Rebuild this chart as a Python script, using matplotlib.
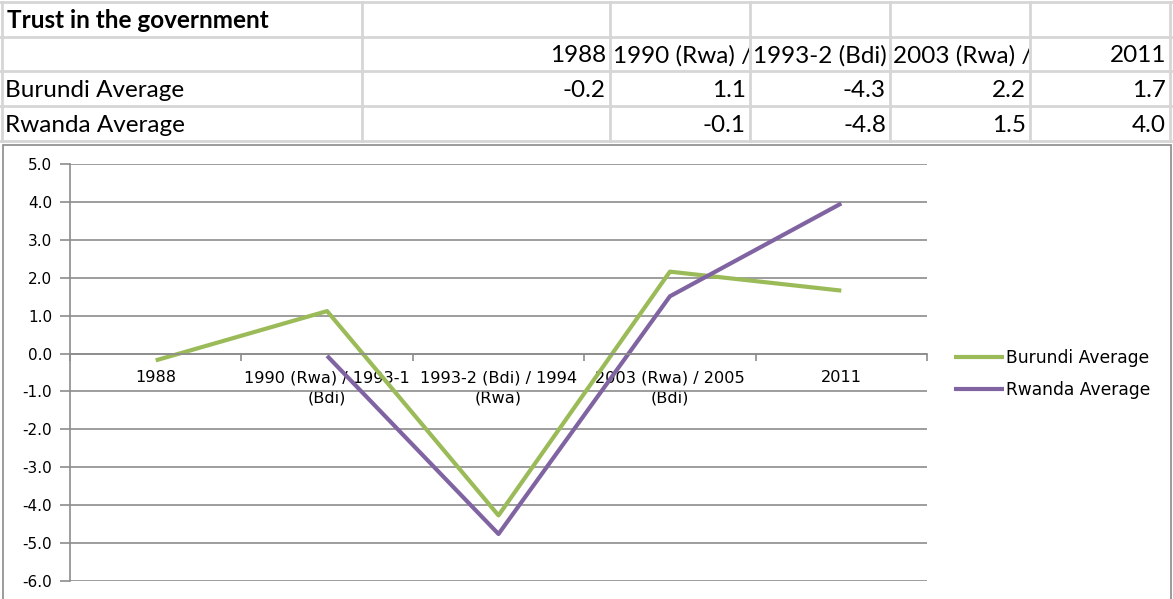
import matplotlib
matplotlib.use("Agg")
import matplotlib.pyplot as plt
from matplotlib.lines import Line2D
from matplotlib.patches import Rectangle
from matplotlib.transforms import Bbox
import numpy as np

# data
categories = ["1988", "1990 (Rwa) / 1993-1 (Bdi)", "1993-2 (Bdi) / 1994 (Rwa)",
              "2003 (Rwa) / 2005 (Bdi)", "2011"]
burundi = [-0.18, 1.12, -4.27, 2.16, 1.66]
rwanda = [np.nan, -0.06, -4.76, 1.51, 3.96]
series_names = ["Burundi Average", "Rwanda Average"]
title = "Trust in the government"

W, H = 1173, 599
fig = plt.figure(figsize=(W / 100, H / 100), dpi=100)

def fx(x):
    return x / W

def fy(y):
    return 1 - y / H

# ---- spreadsheet table on top ----
col_x = [2, 362, 610, 750, 890, 1030, 1170]
row_y = [2, 37, 71, 106, 141]
grid_c = "#d6d6d6"
for x in col_x:
    fig.add_artist(Line2D([fx(x), fx(x)], [fy(row_y[0]), fy(row_y[-1])],
                          color=grid_c, lw=2))
for y in row_y:
    fig.add_artist(Line2D([fx(0), fx(W)], [fy(y), fy(y)], color=grid_c, lw=2))

tfont = dict(family="Lato", fontsize=17.5, color="black")

def cell_text(txt, col, row, align="left", **kw):
    x0, x1 = col_x[col], col_x[col + 1]
    y0, y1 = row_y[row], row_y[row + 1]
    if align == "left":
        x = x0 + 3
    else:
        x = x1 - 4
    t = fig.text(fx(x), fy((y0 + y1) / 2 + 2), txt, ha=align, va="center",
                 **{**tfont, **kw})
    t.set_clip_box(Bbox.from_extents(x0 + 1, H - y1, x1 - 1, H - y0))
    t.set_clip_on(True)
    return t

# title spans over empty cells
fig.text(fx(7), fy((row_y[0] + row_y[1]) / 2 + 1), title, ha="left", va="center",
         fontweight="bold", **tfont)

for i, c in enumerate(categories):
    if c.isdigit():
        cell_text(c, i + 1, 1, align="right")
    else:
        # the spreadsheet cell cuts the long header after the slash
        cell_text(c.split(" / ")[0] + " /", i + 1, 1, align="left")

for r, (name, vals) in enumerate(zip(series_names, [burundi, rwanda])):
    cell_text(name, 0, r + 2, align="left")
    for i, v in enumerate(vals):
        if not np.isnan(v):
            cell_text(f"{v:.1f}", i + 1, r + 2, align="right")

# ---- chart box ----
fig.add_artist(Rectangle((fx(3), fy(604)), fx(1171) - fx(3), fy(145) - fy(604),
                         fill=False, edgecolor="#8a8a8a", lw=1.2))

ax = fig.add_axes([fx(70), fy(581), fx(927) - fx(70), fy(164) - fy(581)])
xpos = np.arange(len(categories))
ax.plot(xpos, burundi, color="#9bbb59", lw=3, solid_capstyle="butt",
        label=series_names[0])
ax.plot(xpos, rwanda, color="#8064a2", lw=3, solid_capstyle="butt",
        label=series_names[1])

ax.set_xlim(-0.5, len(categories) - 0.5)
ax.set_ylim(-6, 5)
ax.set_yticks(np.arange(-6, 5.1, 1))
ax.set_yticklabels([f"{v:.1f}" for v in np.arange(-6, 5.1, 1)])
ax.grid(axis="y", color="#8c8c8c", lw=1.2)
ax.set_axisbelow(True)

for s in ["top", "right"]:
    ax.spines[s].set_visible(False)
ax.spines["left"].set_color("#8c8c8c")
ax.spines["left"].set_linewidth(1.2)
ax.spines["bottom"].set_position(("data", 0))
ax.spines["bottom"].set_color("#8c8c8c")
ax.spines["bottom"].set_linewidth(1.2)

labels = ["\n".join(c.rsplit(" ", 1)) if " " in c else c for c in categories]
ax.set_xticks(xpos)
ax.set_xticklabels(labels, fontsize=11.6, linespacing=1.45)
ax.set_xticks(np.arange(-0.5, len(categories), 1), minor=True)
ax.tick_params(axis="x", which="major", length=0, pad=12)
ax.tick_params(axis="x", which="minor", length=5, color="#8c8c8c", width=1.2,
               direction="out")
ax.tick_params(axis="y", length=7, color="#8c8c8c", width=1.2, labelsize=11,
               pad=6)

ax.legend(loc="center left", bbox_to_anchor=(fx(939), fy(374)),
          bbox_transform=fig.transFigure, frameon=False, fontsize=12.3,
          handlelength=2.9, handletextpad=0.1, labelspacing=0.85)

fig.savefig("out.png", dpi=100)
